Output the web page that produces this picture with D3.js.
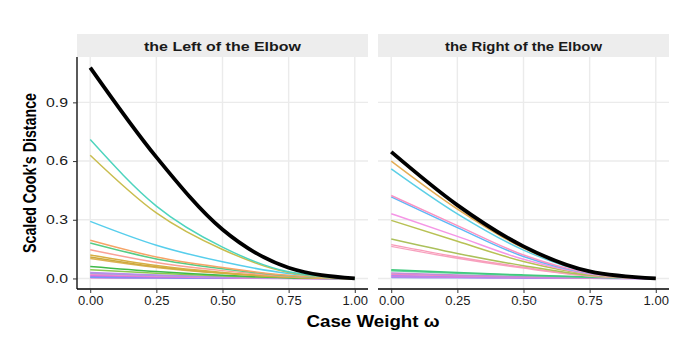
<!DOCTYPE html>
<html>
<head>
<meta charset="utf-8">
<script src="https://cdn.jsdelivr.net/npm/d3@7"></script>
<style>
  html, body { margin: 0; padding: 0; background: #fff; }
  svg { display: block; font-family: "Liberation Sans", Arial, Helvetica, sans-serif; }
</style>
</head>
<body>
<svg id="chart" width="692" height="346"></svg>
<script>
// ---------------- data ----------------
const weights = [0, 0.25, 0.5, 0.75, 1];
const xTicks = [0, 0.25, 0.5, 0.75, 1];
const xTickLabels = ["0.00", "0.25", "0.50", "0.75", "1.00"];
const yTicks = [0, 0.3, 0.6, 0.9];
const yTickLabels = ["0.0", "0.3", "0.6", "0.9"];
const panelTitles = ["the Left of the Elbow", "the Right of the Elbow"];

// left panel: colored observation curves (values at weights)
const leftColors = ["#4ED4BE", "#C9BD4F", "#57CEEC", "#F6A467", "#55CC85", "#F9A197",
  "#D7AE43", "#CDAA3E", "#DDB256", "#3FBA48", "#8CC850", "#B98CEB", "#9AA8D8",
  "#F391C8", "#E070E0", "#A17FF0", "#6F9CF5", "#D36AD6"];
const leftValues = [
  [0.710, 0.370, 0.160, 0.034, 0],
  [0.630, 0.335, 0.148, 0.031, 0],
  [0.292, 0.170, 0.085, 0.025, 0],
  [0.195, 0.110, 0.056, 0.016, 0],
  [0.181, 0.100, 0.050, 0.014, 0],
  [0.147, 0.082, 0.040, 0.011, 0],
  [0.120, 0.066, 0.031, 0.008, 0],
  [0.110, 0.060, 0.028, 0.007, 0],
  [0.102, 0.056, 0.026, 0.007, 0],
  [0.061, 0.035, 0.016, 0.004, 0],
  [0.045, 0.026, 0.012, 0.003, 0],
  [0.031, 0.018, 0.008, 0.002, 0],
  [0.027, 0.015, 0.007, 0.002, 0],
  [0.022, 0.012, 0.006, 0.001, 0],
  [0.016, 0.009, 0.004, 0.001, 0],
  [0.011, 0.006, 0.003, 0.001, 0],
  [0.006, 0.003, 0.0015, 0.0005, 0],
  [0.003, 0.002, 0.001, 0.0003, 0]
];
const leftTotal = [1.078, 0.620, 0.250, 0.055, 0];

// right panel
const rightColors = ["#E3AD55", "#5CCFE6", "#FA93C3", "#5EB8F7", "#F596E6", "#B8C154",
  "#ABC05A", "#F99CB9", "#F7A2BF", "#41C97E", "#5BD39A", "#C48BD8", "#EF88C6",
  "#A98BEF", "#E176E4", "#8E9AF2"];
const rightValues = [
  [0.600, 0.355, 0.155, 0.034, 0],
  [0.560, 0.330, 0.145, 0.032, 0],
  [0.424, 0.270, 0.120, 0.028, 0],
  [0.417, 0.260, 0.112, 0.026, 0],
  [0.331, 0.215, 0.098, 0.023, 0],
  [0.297, 0.190, 0.087, 0.021, 0],
  [0.202, 0.128, 0.065, 0.016, 0],
  [0.173, 0.110, 0.057, 0.014, 0],
  [0.164, 0.103, 0.053, 0.013, 0],
  [0.045, 0.030, 0.018, 0.007, 0],
  [0.039, 0.026, 0.015, 0.006, 0],
  [0.028, 0.018, 0.009, 0.003, 0],
  [0.022, 0.014, 0.007, 0.002, 0],
  [0.015, 0.010, 0.005, 0.0015, 0],
  [0.010, 0.006, 0.003, 0.001, 0],
  [0.005, 0.003, 0.0015, 0.0005, 0]
];
const rightTotal = [0.647, 0.375, 0.164, 0.036, 0];

// ---------------- layout ----------------
const svg = d3.select("#chart");
const plotTop = 57, plotBottom = 289, stripTop = 34;
const panels = [
  { x0: 77, x1: 368, title: panelTitles[0], colors: leftColors, values: leftValues, total: leftTotal, yAxis: true },
  { x0: 378, x1: 669, title: panelTitles[1], colors: rightColors, values: rightValues, total: rightTotal, yAxis: false }
];

const y = d3.scaleLinear().domain([-0.0539, 1.1319]).range([plotBottom, plotTop]);

panels.forEach(p => {
  const x = d3.scaleLinear().domain([-0.05, 1.05]).range([p.x0, p.x1]);
  const g = svg.append("g");

  // strip
  g.append("rect").attr("x", p.x0).attr("y", stripTop).attr("width", p.x1 - p.x0)
    .attr("height", plotTop - stripTop).attr("fill", "#EDEDED");
  g.append("text").attr("x", (p.x0 + p.x1) / 2).attr("y", 50.5)
    .attr("text-anchor", "middle").attr("font-size", 12.5).attr("font-weight", "bold")
    .attr("fill", "#1a1a1a")
    .attr("textLength", 157).attr("lengthAdjust", "spacingAndGlyphs")
    .text(p.title);

  // grid
  g.selectAll(".vg").data(xTicks).enter().append("line")
    .attr("x1", d => x(d)).attr("x2", d => x(d)).attr("y1", plotTop).attr("y2", plotBottom)
    .attr("stroke", "#EBEBEB").attr("stroke-width", 1.4);
  g.selectAll(".hg").data(yTicks).enter().append("line")
    .attr("x1", p.x0).attr("x2", p.x1).attr("y1", d => y(d)).attr("y2", d => y(d))
    .attr("stroke", "#EBEBEB").attr("stroke-width", 1.4);

  const line = d3.line()
    .x((d, i) => x(weights[i]))
    .y(d => y(d))
    .curve(d3.curveMonotoneX);

  const clipId = "clip" + p.x0;
  svg.append("clipPath").attr("id", clipId).append("rect")
    .attr("x", p.x0).attr("y", plotTop).attr("width", p.x1 - p.x0).attr("height", plotBottom - plotTop);

  const lg = g.append("g").attr("clip-path", `url(#${clipId})`);
  lg.selectAll(".obs").data(p.values.slice().reverse()).enter().append("path")
    .attr("d", d => line(d)).attr("fill", "none")
    .attr("stroke", (d, i) => p.colors[p.values.length - 1 - i])
    .attr("stroke-width", 1.5);
  lg.append("path").attr("d", line(p.total)).attr("fill", "none")
    .attr("stroke", "#000").attr("stroke-width", 3.8);

  // x axis
  const xa = g.append("g").attr("transform", `translate(0,${plotBottom})`)
    .call(d3.axisBottom(x).tickValues(xTicks).tickFormat((d, i) => xTickLabels[i])
      .tickSize(4).tickSizeOuter(0));
  xa.select(".domain").attr("stroke", "#000").attr("stroke-width", 1.3)
    .attr("d", `M${p.x0},0H${p.x1}`);
  xa.selectAll(".tick line").attr("stroke", "#333");
  xa.selectAll(".tick text").attr("font-size", 13).attr("fill", "#1a1a1a")
    .attr("font-family", "Liberation Sans, Arial, sans-serif").attr("dy", "0.75em").attr("y", 6);

  if (p.yAxis) {
    const ya = g.append("g").attr("transform", `translate(${p.x0},0)`)
      .call(d3.axisLeft(y).tickValues(yTicks).tickFormat((d, i) => yTickLabels[i])
        .tickSize(4).tickSizeOuter(0));
    ya.select(".domain").attr("stroke", "#000").attr("stroke-width", 1.3)
      .attr("d", `M0,${plotTop}V${plotBottom}`);
    ya.selectAll(".tick line").attr("stroke", "#333");
    ya.selectAll(".tick text").attr("font-size", 12).attr("fill", "#1a1a1a")
      .attr("font-family", "Liberation Sans, Arial, sans-serif")
      .attr("x", -9)
      .attr("textLength", 22).attr("lengthAdjust", "spacingAndGlyphs");
  }
});

// axis titles
svg.append("text").attr("x", 373).attr("y", 327).attr("text-anchor", "middle")
  .attr("font-size", 16).attr("font-weight", "bold").attr("fill", "#000")
  .attr("textLength", 133).attr("lengthAdjust", "spacingAndGlyphs")
  .text("Case Weight \u03C9");

svg.append("text").attr("transform", "translate(36,173) rotate(-90)")
  .attr("text-anchor", "middle")
  .attr("font-size", 19).attr("font-weight", "bold").attr("fill", "#000")
  .attr("textLength", 160).attr("lengthAdjust", "spacingAndGlyphs")
  .text("Scaled Cook's Distance");
</script>
</body>
</html>
